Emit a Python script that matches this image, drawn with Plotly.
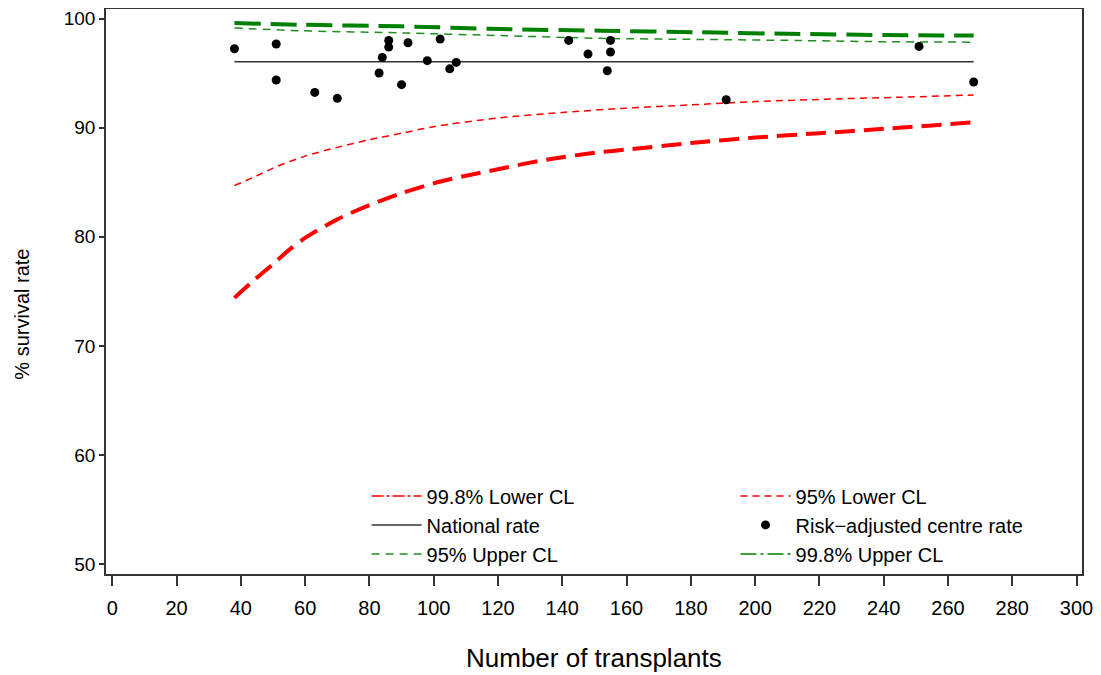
import plotly.graph_objects as go

# ---- data ----
lo998_n = [38, 44, 50, 55, 60, 70, 80, 90, 100, 110, 120, 130, 140, 150, 160, 180, 200, 220, 240, 268]
lo998_y = [74.4, 76.0, 77.5, 78.8, 79.9, 81.6, 82.9, 84.0, 84.9, 85.6, 86.2, 86.8, 87.3, 87.7, 88.0, 88.6, 89.1, 89.5, 89.9, 90.5]

lo95_n = [38, 45, 50, 60, 70, 80, 90, 100, 120, 140, 160, 180, 200, 220, 245, 268]
lo95_y = [84.7, 85.6, 86.3, 87.4, 88.2, 88.9, 89.5, 90.1, 90.9, 91.4, 91.8, 92.1, 92.4, 92.6, 92.8, 93.0]

up95_n = [38, 58, 90, 121, 152, 183, 214, 236, 268]
up95_y = [99.15, 98.9, 98.7, 98.45, 98.2, 98.1, 98.0, 97.9, 97.85]

up998_n = [38, 58, 90, 121, 152, 183, 214, 240, 268]
up998_y = [99.6, 99.45, 99.3, 99.05, 98.9, 98.75, 98.6, 98.5, 98.45]

national_n = [38, 268]
national_y = [96.05, 96.05]

centre_n = [38, 51, 51, 63, 70, 83, 84, 86, 86, 90, 92, 98, 102, 105, 107,
            142, 148, 155, 155, 154, 191, 251, 268]
centre_y = [97.25, 97.68, 94.38, 93.24, 92.7, 95.02, 96.45, 98.0, 97.4, 93.95, 97.8, 96.15, 98.14, 95.4, 95.99,
            98.01, 96.76, 98.01, 96.95, 95.23, 92.57, 97.46, 94.2]

x_ticks = list(range(0, 301, 20))
y_ticks = [50, 60, 70, 80, 90, 100]

FONT = "Liberation Sans, Arial, sans-serif"

fig = go.Figure()
# thick curves drawn without their own legend symbol (the reference legend shows thin symbols)
fig.add_trace(go.Scatter(x=lo998_n, y=lo998_y, mode="lines", showlegend=False, hoverinfo="skip",
                         line=dict(color="#ff0000", width=4, dash="20px,9px", shape="spline", smoothing=0.8)))
fig.add_trace(go.Scatter(x=up998_n, y=up998_y, mode="lines", showlegend=False, hoverinfo="skip",
                         line=dict(color="#008000", width=4, dash="26px,10px", shape="spline", smoothing=0.8)))

# left legend column
fig.add_trace(go.Scatter(x=[None], y=[None], mode="lines", name="99.8% Lower CL", legend="legend",
                         line=dict(color="#ff0000", width=1.5, dash="12px,3px,3px,3px")))
fig.add_trace(go.Scatter(x=national_n, y=national_y, mode="lines", name="National rate", legend="legend",
                         line=dict(color="#333333", width=1.5)))
fig.add_trace(go.Scatter(x=up95_n, y=up95_y, mode="lines", name="95% Upper CL", legend="legend",
                         line=dict(color="#1f8f1f", width=1.5, dash="8px,6px", shape="spline", smoothing=0.8)))
# right legend column
fig.add_trace(go.Scatter(x=lo95_n, y=lo95_y, mode="lines", name="95% Lower CL", legend="legend2",
                         line=dict(color="#ff0000", width=1.5, dash="7px,5px", shape="spline", smoothing=0.8)))
fig.add_trace(go.Scatter(x=centre_n, y=centre_y, mode="markers", name="Risk\u2212adjusted centre rate",
                         legend="legend2", marker=dict(color="black", size=9)))
fig.add_trace(go.Scatter(x=[None], y=[None], mode="lines", name="99.8% Upper CL", legend="legend2",
                         line=dict(color="#008000", width=1.5, dash="16px,4px,3px,4px")))

legend_common = dict(orientation="v", xanchor="left", yanchor="top",
                     y=0.1727, font=dict(family=FONT, size=20, color="black"),
                     bgcolor="rgba(0,0,0,0)", itemwidth=50, tracegroupgap=0,
                     traceorder="normal")

fig.update_layout(
    width=1093, height=667,
    margin=dict(l=98, r=19, t=1, b=101),
    paper_bgcolor="white", plot_bgcolor="white",
    font=dict(family=FONT, color="black", size=20),
    showlegend=True,
    legend=dict(x=0.267, **legend_common),
    legend2=dict(x=0.645, **legend_common),
    xaxis=dict(range=[-1.96, 301.7], tickvals=x_ticks, ticks="outside", ticklen=10,
               tickcolor="#333333", tickwidth=1.5,
               showline=True, mirror=True, linecolor="#333333", linewidth=1.5,
               showgrid=False, zeroline=False, tickfont=dict(size=20),
               ticklabelstandoff=5, automargin=False),
    yaxis=dict(range=[49.08, 100.89], tickvals=y_ticks, ticks="outside", ticklen=5,
               tickcolor="#333333", tickwidth=1.5,
               showline=True, mirror=True, linecolor="#333333", linewidth=1.5,
               showgrid=False, zeroline=False, tickfont=dict(size=19), automargin=False),
    annotations=[
        dict(text="Number of transplants", xref="paper", yref="paper",
             x=0.5, y=-0.148, xanchor="center", yanchor="middle",
             showarrow=False, font=dict(size=26)),
        dict(text="% survival rate", xref="paper", yref="paper",
             x=-0.0861, y=0.4607, xanchor="center", yanchor="middle",
             textangle=-90, showarrow=False, font=dict(size=20)),
    ],
)

fig.write_html("out.html")
